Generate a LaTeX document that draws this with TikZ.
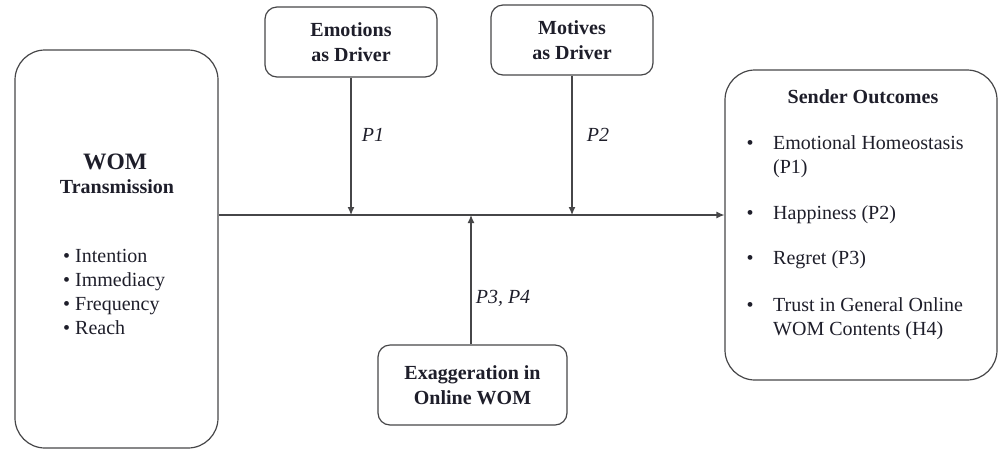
\documentclass[tikz,border=0pt]{standalone}
\usepackage{fontspec}
\setmainfont{Liberation Serif}
\usetikzlibrary{arrows.meta}
\definecolor{inkline}{RGB}{70,70,72}
\definecolor{inktext}{RGB}{30,30,42}
\tikzset{
	box/.style={draw=inkline, line width=1.2pt, rounded corners=12pt, inner sep=0pt, align=center, text=inktext, font=\bfseries\fontsize{20}{25}\selectfont},
	bigbox/.style={box, rounded corners=30pt},
	link/.style={draw=inkline, line width=1.2pt, -{Latex[length=8pt,width=7pt]}},
	plabel/.style={text=inktext, font=\itshape\fontsize{20}{24}\selectfont},
	item/.style={anchor=west, inner sep=0pt, align=left, text=inktext, font=\fontsize{20}{24}\selectfont},
	dot/.style={inner sep=0pt, text=inktext, font=\fontsize{20}{24}\selectfont},
}

\begin{document}
\begin{tikzpicture}[x=1pt, y=-1pt]
			%%%%% START %%%%%
			\useasboundingbox (0,0) rectangle (1000,451);
			
			% boxes
			\node[bigbox, minimum width=203pt, minimum height=398pt] (wom) at (116.5,249) {};
			\node[box, minimum width=172pt, minimum height=70pt] (emo) at (351,42) {Emotions\\as Driver};
			\node[box, minimum width=162pt, minimum height=70pt] (mot) at (572,40) {Motives\\as Driver};
			\node[box, minimum width=189pt, minimum height=80pt] (exa) at (472.5,385) {Exaggeration in\\Online WOM};
			\node[bigbox, minimum width=272pt, minimum height=310pt] (out) at (861,225) {};
			
			% WOM transmission text
			\node[box, draw=none, font=\bfseries\fontsize{23.5}{26}\selectfont] (womhead) at (115,162) {WOM};
			\node[box, draw=none] (womsub) at (117,187) {Transmission};
			\node[item, font=\fontsize{20}{24}\selectfont] (womlist) at (63,292) {\textbullet\ Intention\\\textbullet\ Immediacy\\\textbullet\ Frequency\\\textbullet\ Reach};
			
			% sender outcomes text
			\node[box, draw=none] (outhead) at (863,97) {Sender Outcomes};
			\node[item] (o1) at (773,156.5) {Emotional Homeostasis\\(P1)};
			\node[item] (o2) at (773,215) {Happiness (P2)};
			\node[item] (o3) at (773,260) {Regret (P3)};
			\node[item] (o4) at (773,318.5) {Trust in General Online\\WOM Contents (H4)};
			\foreach \y in {145,215,260,307}
				\node[dot] at (750,\y) {\textbullet};
			
			% connectors
			\coordinate (hub) at (471,215);
			\draw[link] (wom.east |- hub) -- (out.west |- hub);
			\draw[link] (emo) -- (emo |- hub);
			\draw[link] (mot) -- (mot |- hub);
			\draw[link] (exa.north -| hub) -- (hub);
			
			\node[plabel] (p1) at (373,135) {P1};
			\node[plabel] (p2) at (598,135) {P2};
			\node[plabel] (p34) at (503,298) {P3, P4};
			%%%%% END %%%%%
\end{tikzpicture}
\end{document}
